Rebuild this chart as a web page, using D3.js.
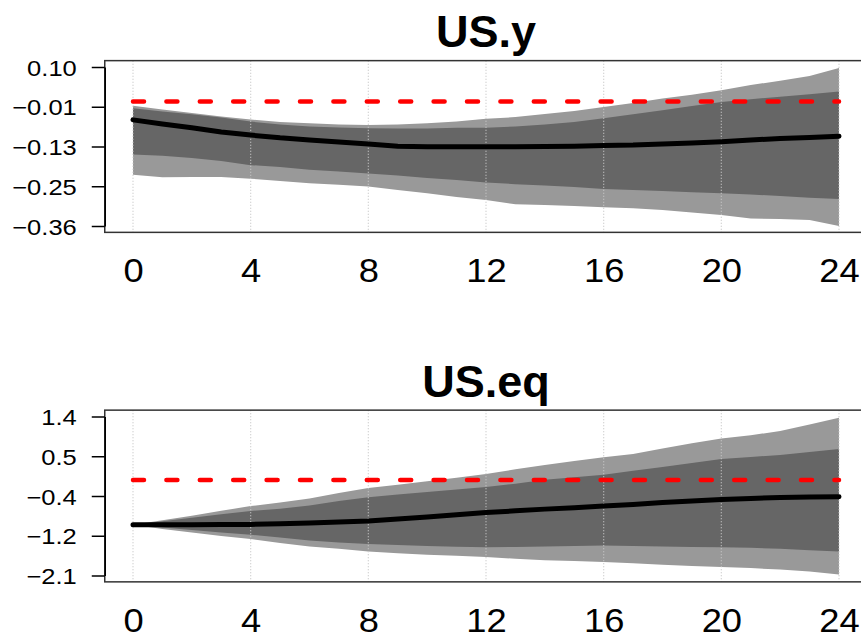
<!DOCTYPE html>
<meta charset="utf-8">
<style>

body {
  margin: 0;
  background: #fff;
}

.title {
  font: bold 45px "Liberation Sans", Arial, sans-serif;
}

.axis text {
  font-family: "Liberation Sans", Arial, sans-serif;
  fill: #000;
}

.axis--y text {
  font-size: 22px;
}

.axis--x text {
  font-size: 33px;
}

.axis--y line,
.axis--y path {
  stroke: #000;
  stroke-width: 1.5;
}

.grid line {
  stroke: #c8c8c8;
  stroke-width: 1.2;
  stroke-dasharray: 1,2;
}

.box {
  fill: none;
  stroke: #333;
  stroke-width: 1.5;
}

.zero {
  fill: none;
  stroke: #ff0000;
  stroke-width: 4.5;
  stroke-dasharray: 11,22.4;
  stroke-linecap: round;
}

.median {
  fill: none;
  stroke: #000;
  stroke-width: 5;
  stroke-linecap: round;
  stroke-linejoin: round;
}

</style>
<svg width="861" height="634"></svg>
<script src="https://d3js.org/d3.v7.min.js"></script>
<script>

var horizons = [0, 1, 2, 3, 4, 5, 6, 7, 8, 9, 10, 11, 12, 13, 14, 15, 16, 17, 18, 19, 20, 21, 22, 23, 24];
var xTicks = [0, 4, 8, 12, 16, 20, 24];

// US.y
var usYHi95 = [-0.012, -0.023, -0.033, -0.043, -0.052, -0.059, -0.063, -0.066, -0.068, -0.066, -0.063, -0.058, -0.050, -0.045, -0.036, -0.027, -0.016, -0.004, 0.009, 0.020, 0.033, 0.048, 0.060, 0.074, 0.097];
var usYHi68 = [-0.019, -0.029, -0.037, -0.046, -0.058, -0.066, -0.072, -0.075, -0.077, -0.078, -0.078, -0.076, -0.076, -0.072, -0.066, -0.059, -0.048, -0.037, -0.025, -0.013, -0.001, 0.007, 0.014, 0.021, 0.029];
var usYMedian = [-0.053, -0.065, -0.076, -0.088, -0.097, -0.105, -0.111, -0.117, -0.123, -0.129, -0.131, -0.131, -0.131, -0.131, -0.130, -0.129, -0.127, -0.126, -0.123, -0.120, -0.116, -0.111, -0.107, -0.104, -0.100];
var usYLo68 = [-0.153, -0.157, -0.163, -0.172, -0.184, -0.189, -0.197, -0.202, -0.208, -0.214, -0.221, -0.227, -0.234, -0.239, -0.243, -0.247, -0.253, -0.256, -0.259, -0.262, -0.265, -0.269, -0.273, -0.278, -0.282];
var usYLo95 = [-0.212, -0.219, -0.218, -0.218, -0.223, -0.230, -0.236, -0.241, -0.246, -0.256, -0.265, -0.276, -0.285, -0.297, -0.299, -0.302, -0.306, -0.309, -0.314, -0.321, -0.328, -0.338, -0.340, -0.343, -0.360];
var usYTickValues = [0.10, -0.015, -0.13, -0.245, -0.36];
var usYTickLabels = ["0.10", "\u22120.01", "\u22120.13", "\u22120.25", "\u22120.36"];

// US.eq
var usEqHi95 = [-0.985, -0.883, -0.785, -0.676, -0.572, -0.491, -0.404, -0.285, -0.172, -0.100, -0.024, 0.052, 0.133, 0.237, 0.335, 0.422, 0.502, 0.574, 0.698, 0.813, 0.915, 0.987, 1.080, 1.226, 1.372];
var usEqHi68 = [-0.985, -0.904, -0.828, -0.752, -0.680, -0.633, -0.557, -0.459, -0.376, -0.317, -0.263, -0.209, -0.150, -0.078, 0.009, 0.063, 0.117, 0.204, 0.291, 0.378, 0.465, 0.509, 0.552, 0.617, 0.683];
var usEqMedian = [-0.985, -0.985, -0.983, -0.980, -0.976, -0.963, -0.943, -0.922, -0.898, -0.857, -0.811, -0.763, -0.715, -0.676, -0.639, -0.607, -0.572, -0.535, -0.491, -0.459, -0.426, -0.404, -0.383, -0.372, -0.367];
var usEqLo68 = [-0.985, -1.046, -1.100, -1.154, -1.202, -1.263, -1.328, -1.372, -1.404, -1.426, -1.448, -1.465, -1.476, -1.470, -1.459, -1.448, -1.441, -1.448, -1.459, -1.470, -1.476, -1.491, -1.513, -1.546, -1.572];
var usEqLo95 = [-0.985, -1.078, -1.154, -1.230, -1.296, -1.383, -1.459, -1.513, -1.572, -1.611, -1.643, -1.665, -1.693, -1.730, -1.767, -1.780, -1.802, -1.828, -1.861, -1.893, -1.911, -1.937, -1.970, -2.013, -2.078];
var usEqTickValues = [1.4, 0.525, -0.35, -1.225, -2.1];
var usEqTickLabels = ["1.4", "0.5", "\u22120.4", "\u22121.2", "\u22122.1"];

var panels = [
  {title: "US.y", hi95: usYHi95, hi68: usYHi68, median: usYMedian, lo68: usYLo68, lo95: usYLo95,
   tickValues: usYTickValues, tickLabels: usYTickLabels, offset: 0},
  {title: "US.eq", hi95: usEqHi95, hi68: usEqHi68, median: usEqMedian, lo68: usEqLo68, lo95: usEqLo95,
   tickValues: usEqTickValues, tickLabels: usEqTickLabels, offset: 349.5}
];

var svg = d3.select("svg"),
    yStretch = 1.16,
    xStretch = 1.1;

var x = d3.scaleLinear()
    .domain([0, 24])
    .range([133, 839]);

var boxLeft = x(-0.96),
    boxRight = x(24.96);

panels.forEach(function(p) {
  var ext = d3.extent(p.tickValues),
      pad = (ext[1] - ext[0]) * 0.04;

  var y = d3.scaleLinear()
      .domain(ext)
      .range([226 + p.offset, 67 + p.offset]);

  var boxTop = y(ext[1] + pad),
      boxBottom = y(ext[0] - pad);

  var g = svg.append("g");

  var rows = horizons.map(function(h, i) {
    return {h: h, hi95: p.hi95[i], hi68: p.hi68[i], median: p.median[i], lo68: p.lo68[i], lo95: p.lo95[i]};
  });

  g.append("path")
      .datum(rows)
      .attr("fill", "#999999")
      .attr("d", d3.area()
          .x(function(d) { return x(d.h); })
          .y0(function(d) { return y(d.lo95); })
          .y1(function(d) { return y(d.hi95); }));

  g.append("path")
      .datum(rows)
      .attr("fill", "#666666")
      .attr("d", d3.area()
          .x(function(d) { return x(d.h); })
          .y0(function(d) { return y(d.lo68); })
          .y1(function(d) { return y(d.hi68); }));

  g.append("g")
      .attr("class", "grid")
    .selectAll("line")
    .data(xTicks)
    .enter().append("line")
      .attr("x1", function(d) { return x(d); })
      .attr("x2", function(d) { return x(d); })
      .attr("y1", boxTop)
      .attr("y2", boxBottom);

  g.append("line")
      .attr("class", "zero")
      .attr("x1", x(0))
      .attr("x2", x(24))
      .attr("y1", y(0))
      .attr("y2", y(0));

  g.append("path")
      .datum(rows)
      .attr("class", "median")
      .attr("d", d3.line()
          .x(function(d) { return x(d.h); })
          .y(function(d) { return y(d.median); }));

  g.append("rect")
      .attr("class", "box")
      .attr("x", boxLeft)
      .attr("y", boxTop)
      .attr("width", boxRight - boxLeft)
      .attr("height", boxBottom - boxTop);

  g.append("g")
      .attr("class", "axis axis--y")
      .attr("transform", "translate(" + boxLeft + ",0)")
      .call(d3.axisLeft(y)
          .tickValues(p.tickValues)
          .tickFormat(function(d, i) { return p.tickLabels[i]; })
          .tickSize(13)
          .tickSizeOuter(0))
    .selectAll("text")
      .attr("x", -28 / yStretch)
      .attr("dy", "0.37em")
      .attr("transform", "scale(" + yStretch + ",1)");

  var xAxis = g.append("g")
      .attr("class", "axis axis--x")
      .attr("transform", "translate(0," + boxBottom + ")")
      .call(d3.axisBottom(x)
          .tickValues(xTicks)
          .tickSize(0));

  xAxis.select(".domain").remove();
  xAxis.selectAll("text")
      .attr("y", 0)
      .attr("dy", null)
      .attr("transform", "translate(0," + (282 + p.offset - boxBottom) + ") scale(" + xStretch + ",1)");

  g.append("text")
      .attr("class", "title")
      .attr("x", (boxLeft + boxRight) / 2)
      .attr("y", 47 + p.offset)
      .attr("text-anchor", "middle")
      .text(p.title);
});

</script>
